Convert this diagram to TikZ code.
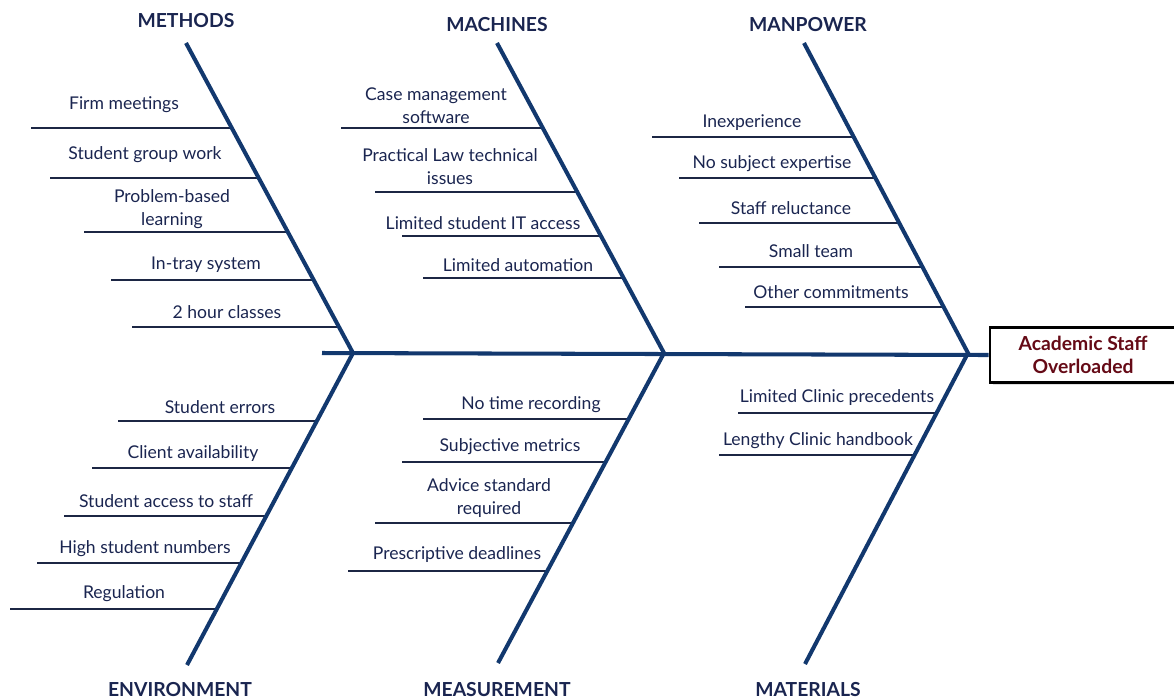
\documentclass[tikz,border=0pt]{standalone}
\usepackage{fontspec}
\setmainfont{Lato}
\usetikzlibrary{shadows}
\definecolor{bonecol}{HTML}{12386E}
\definecolor{twigcol}{HTML}{1C2644}
\definecolor{txtcol}{HTML}{1A2550}
\definecolor{effcol}{HTML}{650A16}

\begin{document}
\begin{tikzpicture}[x=0.02cm, y=-0.02cm]
            \tikzstyle{bone} = [line width=2.3pt, draw=bonecol]
            \tikzstyle{twig} = [line width=1.1pt, draw=twigcol]
            \tikzstyle{cause} = [inner sep=0pt, align=center, text=txtcol, font=\fontsize{10}{13}\selectfont]
            \tikzstyle{category} = [inner sep=0pt, text=txtcol, font=\fontsize{11}{13}\selectfont\bfseries]
            \tikzstyle{effect} = [draw=black, line width=1.5pt, fill=white, align=center, text=effcol,
                                  minimum width=3.72cm, minimum height=1.1cm, font=\fontsize{11}{13}\selectfont\bfseries,
                                  drop shadow={shadow xshift=1.5pt, shadow yshift=-1.5pt, opacity=0.25}]
            \useasboundingbox (0, 0) rectangle (1174, 698);
            % heads of the bones
            \node[category] (methods) at (186, 21) {METHODS};
            \node[category] (machines) at (497, 25) {MACHINES};
            \node[category] (manpower) at (808, 25) {MANPOWER};
            \node[category] (environment) at (180, 689) {ENVIRONMENT};
            \node[category] (measurement) at (497, 689) {MEASUREMENT};
            \node[category] (materials) at (808, 689) {MATERIALS};
            \coordinate (mt-top) at (186, 43);
            \coordinate (mc-top) at (497, 43);
            \coordinate (mp-top) at (804, 43);
            \coordinate (en-end) at (187, 665);
            \coordinate (ms-end) at (498, 663);
            \coordinate (ma-end) at (805, 664);
            \coordinate (tail) at (322, 353);
            \coordinate (j1) at (353, 353);
            \coordinate (j2) at (664, 353);
            \coordinate (j3) at (968, 353);
            \node[effect] (overload) at (1083, 355) {Academic Staff\\Overloaded};
            % methods
            \node[cause] (firm) at (124, 105) {Firm meetings};
            \draw[twig] (31, 128) -- (232, 128);
            \node[cause] (group) at (145, 155) {Student group work};
            \draw[twig] (50, 178) -- (259, 178);
            \node[cause] (pbl) at (172, 209) {Problem-based\\learning};
            \draw[twig] (84, 232) -- (288, 232);
            \node[cause] (intray) at (206, 265) {In-tray system};
            \draw[twig] (111, 280) -- (314, 280);
            \node[cause] (classes) at (227, 312) {2 hour classes};
            \draw[twig] (132, 327) -- (339, 327);
            % machines
            \node[cause] (casesw) at (436, 106) {Case management\\software};
            \draw[twig] (341, 128) -- (543, 128);
            \node[cause] (praclaw) at (450, 167) {Practical Law technical\\issues};
            \draw[twig] (375, 192) -- (577, 192);
            \node[cause] (itaccess) at (483, 223) {Limited student IT access};
            \draw[twig] (402, 236) -- (601, 236);
            \node[cause] (automation) at (518, 265) {Limited automation};
            \draw[twig] (423, 278) -- (624, 278);
            % manpower
            \node[cause] (inexp) at (752, 123) {Inexperience};
            \draw[twig] (652, 137) -- (854, 137);
            \node[cause] (expertise) at (772, 164) {No subject expertise};
            \draw[twig] (679, 178) -- (875, 178);
            \node[cause] (reluct) at (791, 208) {Staff reluctance};
            \draw[twig] (699, 223) -- (899, 223);
            \node[cause] (team) at (811, 251) {Small team};
            \draw[twig] (719, 267) -- (922, 267);
            \node[cause] (commit) at (831, 292) {Other commitments};
            \draw[twig] (745, 307) -- (943, 307);
            % environment
            \node[cause] (errors) at (220, 407) {Student errors};
            \draw[twig] (118, 421) -- (317, 421);
            \node[cause] (client) at (193, 454) {Client availability};
            \draw[twig] (92, 468) -- (292, 468);
            \node[cause] (staffacc) at (166, 501) {Student access to staff};
            \draw[twig] (64, 516) -- (266, 516);
            \node[cause] (numbers) at (145, 549) {High student numbers};
            \draw[twig] (37, 563) -- (241, 563);
            \node[cause] (regul) at (124, 594) {Regulation};
            \draw[twig] (10, 609) -- (217, 609);
            % measurement
            \node[cause] (timerec) at (531, 405) {No time recording};
            \draw[twig] (423, 419) -- (629, 419);
            \node[cause] (metrics) at (510, 447) {Subjective metrics};
            \draw[twig] (402, 462) -- (606, 462);
            \node[cause] (advice) at (489, 498) {Advice standard\\required};
            \draw[twig] (375, 523) -- (573, 523);
            \node[cause] (deadlines) at (457, 555) {Prescriptive deadlines};
            \draw[twig] (348, 571) -- (547, 571);
            % materials
            \node[cause] (preced) at (837, 398) {Limited Clinic precedents};
            \draw[twig] (738, 413) -- (937, 413);
            \node[cause] (handbook) at (818, 441) {Lengthy Clinic handbook};
            \draw[twig] (719, 455) -- (915, 455);
            % spine and bones
            \draw[bone] (tail) -- (overload.west);
            \draw[bone] (mt-top) -- (j1) -- (en-end);
            \draw[bone] (mc-top) -- (j2) -- (ms-end);
            \draw[bone] (mp-top) -- (j3) -- (ma-end);
        \end{tikzpicture}
\end{document}
